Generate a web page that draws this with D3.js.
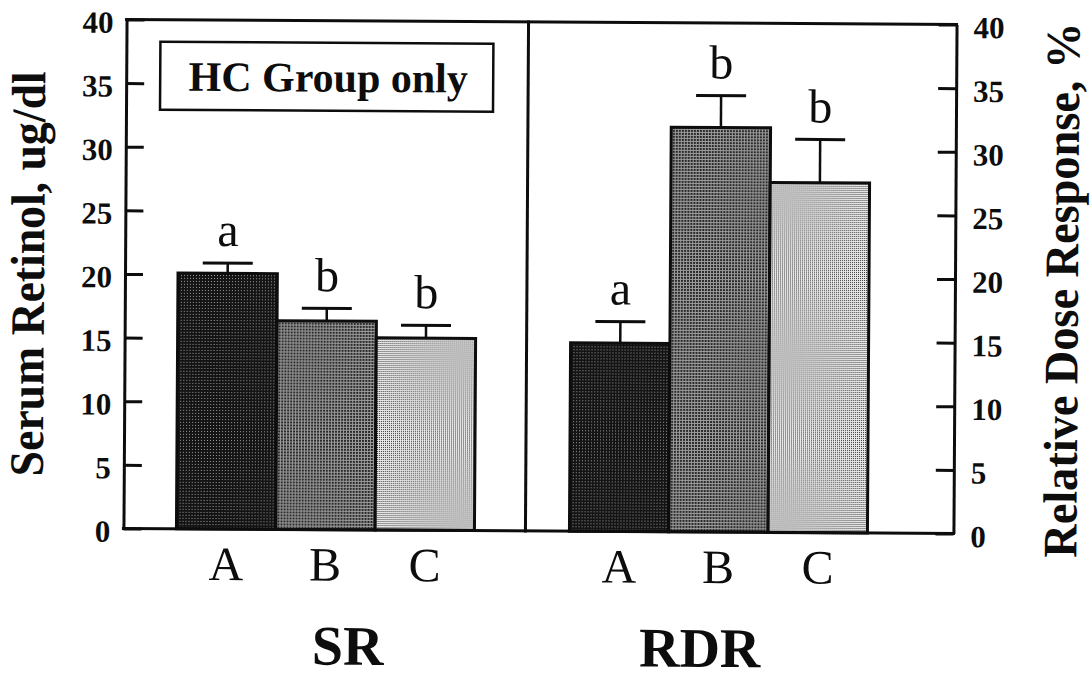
<!DOCTYPE html>
<html>
<head>
<meta charset="utf-8">
<script src="https://cdn.jsdelivr.net/npm/d3@7"></script>
<style>
  body { margin: 0; background: #fff; }
  svg { display: block; }
</style>
</head>
<body>
<svg id="chart"></svg>
<script>
// data
const groups = ['SR', 'RDR'];
const treatments = ['A', 'B', 'C'];
const srMeans = [20.1, 16.4, 15.1];
const srErr = [0.8, 1.0, 1.0];
const srLetters = ['a', 'b', 'b'];
const rdrMeans = [14.8, 31.8, 27.5];
const rdrErr = [1.7, 2.5, 3.4];
const rdrLetters = ['a', 'b', 'b'];
const yTicks = [0, 5, 10, 15, 20, 25, 30, 35, 40];
const boxLabel = 'HC Group only';
const leftTitle = 'Serum Retinol, ug/dl';
const rightTitle = 'Relative Dose Response, %';

const w = 1092, h = 679;
const plot = { left: 125, right: 955, top: 22, bottom: 531 };
const serif = "'Liberation Serif', 'Times New Roman', serif";
const ink = '#0d0d0d';

const chart = d3.select('#chart').attr('width', w).attr('height', h);

// texture fills for the three treatments (scanned stipple look)
const defs = chart.append('defs');
const addPattern = (id, size, bg, dots) => {
  const p = defs.append('pattern')
    .attr('id', id)
    .attr('patternUnits', 'userSpaceOnUse')
    .attr('width', size).attr('height', size);
  p.append('rect').attr('width', size).attr('height', size).attr('fill', bg);
  dots.forEach(d => {
    p.append('rect').attr('x', d[0]).attr('y', d[1])
      .attr('width', d[2]).attr('height', d[2]).attr('fill', d[3]);
  });
};
addPattern('fillA', 3, '#141414', [[1, 1, 1, '#9a9a9a']]);
addPattern('fillB', 3, '#9c9c9c', [[0, 0, 2, '#2a2a2a']]);
addPattern('fillC', 2, '#e8e8e8', [[0, 0, 1, '#3a3a3a']]);
const fills = { A: 'url(#fillA)', B: 'url(#fillB)', C: 'url(#fillC)' };

// the whole scan sits slightly rotated
const g = chart.append('g').attr('transform', 'rotate(0.35, 540, 276)');

const yScale = d3.scaleLinear().domain([0, 40]).range([plot.bottom, plot.top]);
const groupX = d3.scalePoint().domain(groups).range([327, 720]);
const barX = d3.scaleBand().domain(treatments).range([-149, 149]).padding(0);

const rows = [];
treatments.forEach((t, i) => {
  rows.push({ group: 'SR', t: t, mean: srMeans[i], err: srErr[i], letter: srLetters[i] });
});
treatments.forEach((t, i) => {
  rows.push({ group: 'RDR', t: t, mean: rdrMeans[i], err: rdrErr[i], letter: rdrLetters[i] });
});
const cx = d => groupX(d.group) + barX(d.t) + barX.bandwidth() / 2;

// bars
g.selectAll('.bar')
  .data(rows)
  .enter()
  .append('rect')
  .attr('class', 'bar')
  .attr('x', d => groupX(d.group) + barX(d.t))
  .attr('y', d => yScale(d.mean))
  .attr('width', barX.bandwidth())
  .attr('height', d => yScale(0) - yScale(d.mean))
  .attr('fill', d => fills[d.t])
  .attr('stroke', ink)
  .attr('stroke-width', 3);

// error bars
g.selectAll('.stem')
  .data(rows)
  .enter()
  .append('line')
  .attr('x1', cx).attr('x2', cx)
  .attr('y1', d => yScale(d.mean))
  .attr('y2', d => yScale(d.mean + d.err))
  .attr('stroke', ink)
  .attr('stroke-width', 2.5);

g.selectAll('.cap')
  .data(rows)
  .enter()
  .append('line')
  .attr('x1', d => cx(d) - 25).attr('x2', d => cx(d) + 25)
  .attr('y1', d => yScale(d.mean + d.err))
  .attr('y2', d => yScale(d.mean + d.err))
  .attr('stroke', ink)
  .attr('stroke-width', 3);

// significance letters
g.selectAll('.sig')
  .data(rows)
  .enter()
  .append('text')
  .attr('x', cx)
  .attr('y', d => yScale(d.mean + d.err) - 17)
  .attr('text-anchor', 'middle')
  .attr('font-family', serif)
  .attr('font-size', '48px')
  .attr('fill', ink)
  .text(d => d.letter);

// treatment labels under bars
g.selectAll('.cat')
  .data(rows)
  .enter()
  .append('text')
  .attr('x', cx)
  .attr('y', 582)
  .attr('text-anchor', 'middle')
  .attr('font-family', serif)
  .attr('font-size', '48px')
  .attr('fill', ink)
  .text(d => d.t);

// group labels
const groupShift = { SR: 23, RDR: -18 };
g.selectAll('.grp')
  .data(groups)
  .enter()
  .append('text')
  .attr('x', d => groupX(d) + groupShift[d])
  .attr('y', 666)
  .attr('text-anchor', 'middle')
  .attr('font-family', serif)
  .attr('font-weight', 'bold')
  .attr('font-size', '56px')
  .attr('fill', ink)
  .text(d => d);

// frame: top, bottom, divider
const frame = [
  [plot.left, plot.top, plot.right, plot.top],
  [plot.left, plot.bottom, plot.right, plot.bottom],
  [527, plot.top, 527, plot.bottom]
];
g.selectAll('.frame')
  .data(frame)
  .enter()
  .append('line')
  .attr('x1', d => d[0]).attr('y1', d => d[1])
  .attr('x2', d => d[2]).attr('y2', d => d[3])
  .attr('stroke', ink)
  .attr('stroke-width', 3)
  .attr('stroke-linecap', 'square');

// axes
const styleAxis = sel => {
  sel.select('.domain').attr('stroke', ink).attr('stroke-width', 3);
  sel.selectAll('.tick line').attr('stroke', ink).attr('stroke-width', 3);
  sel.selectAll('.tick text')
    .attr('font-family', serif)
    .attr('font-weight', 'bold')
    .attr('font-size', '31px')
    .attr('fill', ink)
    .attr('dy', '0.42em');
};

g.append('g')
  .attr('transform', `translate(${plot.left}, 0)`)
  .call(d3.axisLeft(yScale).tickValues(yTicks).tickSizeInner(-18).tickSizeOuter(0).tickPadding(13))
  .call(styleAxis);

g.append('g')
  .attr('transform', `translate(${plot.right}, 0)`)
  .call(d3.axisRight(yScale).tickValues(yTicks).tickSizeInner(-18).tickSizeOuter(0).tickPadding(17))
  .call(styleAxis);

// axis titles
g.append('text')
  .attr('transform', 'translate(44, 277) rotate(-90)')
  .attr('text-anchor', 'middle')
  .attr('font-family', serif)
  .attr('font-weight', 'bold')
  .attr('font-size', '48px')
  .attr('textLength', 405)
  .attr('lengthAdjust', 'spacingAndGlyphs')
  .attr('fill', ink)
  .text(leftTitle);

g.append('text')
  .attr('transform', 'translate(1078, 287) rotate(-90)')
  .attr('text-anchor', 'middle')
  .attr('font-family', serif)
  .attr('font-weight', 'bold')
  .attr('font-size', '48px')
  .attr('textLength', 535)
  .attr('lengthAdjust', 'spacingAndGlyphs')
  .attr('fill', ink)
  .text(rightTitle);

// "HC Group only" box
const box = g.append('g');
box.append('rect')
  .attr('x', groupX('SR') - 168)
  .attr('y', 44)
  .attr('width', 333)
  .attr('height', 68)
  .attr('fill', 'none')
  .attr('stroke', ink)
  .attr('stroke-width', 2.5);
box.append('text')
  .attr('x', groupX('SR'))
  .attr('y', 93)
  .attr('text-anchor', 'middle')
  .attr('font-family', serif)
  .attr('font-weight', 'bold')
  .attr('font-size', '42px')
  .attr('fill', ink)
  .text(boxLabel);
</script>
</body>
</html>
